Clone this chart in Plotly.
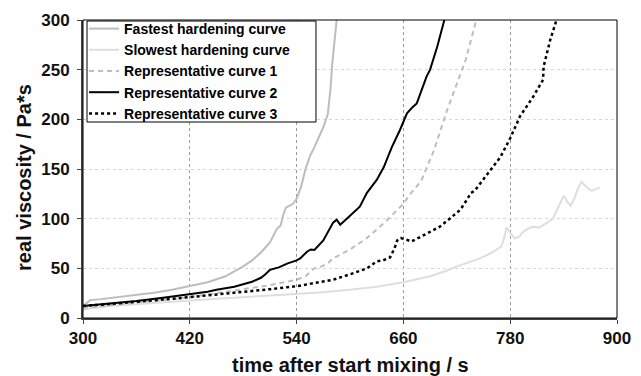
import plotly.graph_objects as go

# ---------------- data ----------------
fast_x = [300, 304, 308, 320, 340, 360, 380, 400, 420, 440, 460, 480, 490, 500, 510, 518, 522,
          525, 528, 532, 536, 540, 545, 550, 555, 560, 565, 570, 575, 578, 580, 583, 585]
fast_y = [12, 15, 18, 19, 21, 23, 25.5, 28.5, 32, 36, 42, 52, 58, 66, 76, 90, 93,
          104, 111, 113, 115, 120, 132, 150, 163, 172, 182, 192, 205, 230, 255, 285, 300]

slow_x = [300, 310, 330, 360, 390, 420, 450, 480, 510, 540, 570, 600, 630, 660, 690, 710, 720,
          730, 746, 760, 765, 770, 773, 776, 780, 785, 790, 795, 800, 806, 812, 820, 828, 834,
          840, 845, 848, 852, 856, 860, 864, 868, 872, 876, 881]
slow_y = [8, 10, 12, 14, 16, 18, 19.5, 21, 22.5, 24, 26, 28.5, 31.5, 36, 42, 48, 52,
          55, 60, 66, 69, 72, 80, 91, 86, 80, 82, 87, 90, 92, 91, 95, 100, 112,
          123, 116, 113, 120, 130, 137, 133, 130, 128, 130, 131]

rep1_x = [300, 330, 360, 390, 420, 450, 480, 510, 540, 550, 556, 560, 566, 575, 581, 600, 619,
          640, 660, 667, 680, 694, 709, 720, 730, 741, 742]
rep1_y = [10, 13, 15.5, 18, 21, 25, 29, 33, 38.5, 42, 47, 50, 51, 55, 60, 69, 80.5,
          97, 115, 124, 138, 168, 209, 236, 260, 297, 300]

rep2_x = [300, 330, 360, 390, 420, 440, 450, 460, 470, 480, 490, 500, 505, 510, 515, 520, 530,
          540, 544, 552, 556, 560, 570, 581, 585, 589, 600, 611, 619, 630, 638, 647, 656, 664,
          670, 675, 686, 690, 698, 706]
rep2_y = [12, 14.5, 17, 20.5, 24, 26.5, 28.5, 30, 31.5, 34, 36.5, 40.5, 44, 48.5, 49.5, 51, 55,
          58, 60, 67, 69, 68.5, 78, 96, 99, 94, 103, 112, 126, 139, 152, 172, 189, 206,
          212, 216, 243, 250, 273, 300]

rep3_x = [300, 330, 360, 390, 420, 450, 480, 510, 540, 560, 581, 600, 619, 630, 637, 645, 650,
          653, 657, 663, 669, 680, 690, 701, 712, 724, 732, 736, 740, 754, 769, 780, 791, 806,
          814, 817, 817.5, 820, 825, 831, 832]
rep3_y = [12, 14, 16, 18.5, 21, 23.5, 26, 29, 32, 35, 38.5, 44, 50, 57, 58, 61, 70,
          78, 80.5, 79, 77, 82, 87, 92, 100, 109, 120, 126, 128, 145, 162, 181, 203, 223,
          236, 240, 253, 263, 280, 297, 300]

names = ["Fastest hardening curve", "Slowest hardening curve", "Representative curve 1",
         "Representative curve 2", "Representative curve 3"]

x_ticks = [300, 420, 540, 660, 780, 900]
y_ticks = [0, 50, 100, 150, 200, 250, 300]

FONT = "Liberation Sans, Arial, sans-serif"

fig = go.Figure()
fig.add_trace(go.Scatter(x=fast_x, y=fast_y, mode="lines", name=names[0],
                         line=dict(color="#bdbdbd", width=2)))
fig.add_trace(go.Scatter(x=slow_x, y=slow_y, mode="lines", name=names[1],
                         line=dict(color="#dedede", width=2)))
fig.add_trace(go.Scatter(x=rep1_x, y=rep1_y, mode="lines", name=names[2],
                         line=dict(color="#bdbdbd", width=2, dash="5px,4px")))
fig.add_trace(go.Scatter(x=rep2_x, y=rep2_y, mode="lines", name=names[3],
                         line=dict(color="#000000", width=2)))
fig.add_trace(go.Scatter(x=rep3_x, y=rep3_y, mode="lines", name=names[4],
                         line=dict(color="#000000", width=2.5, dash="3px,3px")))

# page body has an 8px margin: size/margins compensate for it
fig.update_layout(
    width=633, height=368,
    margin=dict(l=75, r=24, t=12, b=58, autoexpand=False),
    paper_bgcolor="white", plot_bgcolor="white",
    font=dict(family=FONT, color="#000", size=15, weight="bold"),
    showlegend=True,
    legend=dict(x=0.002, y=1.0235, xanchor="left", yanchor="top",
                bgcolor="rgba(0,0,0,0)", borderwidth=0,
                font=dict(family=FONT, size=14, color="#000", weight="bold"),
                tracegroupgap=0, itemwidth=30),
    xaxis=dict(range=[300, 900], tickvals=x_ticks, ticktext=[str(v) for v in x_ticks],
               automargin=False,
               showgrid=True, gridcolor="#9a9a9a", griddash="dot", gridwidth=1,
               showline=True, linecolor="#444", linewidth=2,
               ticks="outside", ticklen=4, tickcolor="#444", tickwidth=1,
               tickfont=dict(family=FONT, size=17, color="#111", weight="bold"),
               zeroline=False),
    yaxis=dict(range=[0, 300], tickvals=y_ticks, ticktext=[str(v) for v in y_ticks],
               automargin=False,
               showgrid=True, gridcolor="#d6d6d6", griddash="dot", gridwidth=1,
               showline=True, linecolor="#444", linewidth=2,
               ticks="outside", ticklen=4, tickcolor="#444", tickwidth=1,
               tickfont=dict(family=FONT, size=17, color="#111", weight="bold"),
               zeroline=False, ticklabelstandoff=4),
    shapes=[
        dict(type="rect", xref="paper", yref="paper", x0=0, x1=1, y0=0, y1=1,
             line=dict(color="#000", width=1), fillcolor="rgba(0,0,0,0)", layer="above"),
        # legend frame
        dict(type="rect", xref="paper", yref="paper", x0=0.0075, x1=0.4363, y0=0.6577, y1=0.9966,
             line=dict(color="#000", width=1), fillcolor="white", layer="above"),
    ],
    annotations=[
        dict(text="time after start mixing / s", xref="paper", yref="paper",
             x=0.5, y=0, yshift=-47, xanchor="center", yanchor="middle", showarrow=False,
             font=dict(family=FONT, size=20, color="#111", weight="bold")),
        dict(text="real viscosity / Pa*s", xref="paper", yref="paper",
             x=0, xshift=-59, y=0.47, xanchor="center", yanchor="middle", showarrow=False,
             textangle=-90,
             font=dict(family=FONT, size=20, color="#111", weight="bold")),
    ],
)

fig.write_html("out.html")
